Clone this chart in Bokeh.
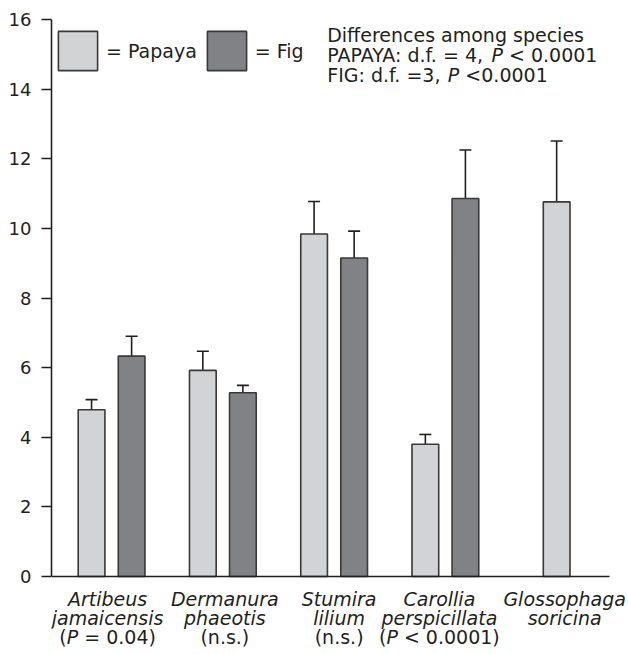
from bokeh.plotting import figure
from bokeh.models import (Range1d, Label, Legend, LegendItem, Whisker, TeeHead,
                          ColumnDataSource, FixedTicker, LinearAxis)
from bokeh.embed import file_html
from bokeh.resources import INLINE

# ---------------- data ----------------
genus = ["Artibeus", "Dermanura", "Stumira", "Carollia", "Glossophaga"]
epithet = ["jamaicensis", "phaeotis", "lilium", "perspicillata", "soricina"]
pair_test = ["P = 0.04", "n.s.", "n.s.", "P < 0.0001", ""]

papaya_mean = [4.79, 5.92, 9.84, 3.80, 10.76]
papaya_se = [0.29, 0.55, 0.93, 0.28, 1.75]
fig_mean = [6.33, 5.28, 9.15, 10.86, None]
fig_se = [0.57, 0.21, 0.77, 1.39, None]

y_ticks = [0, 2, 4, 6, 8, 10, 12, 14, 16]

header_lines = [
    ["Differences among species"],
    ["PAPAYA: d.f. = 4, ", "P", " < 0.0001"],
    ["FIG: d.f. =3, ", "P", " <0.0001"],
]

# ---------------- styling ----------------
TEXT = "#231f20"
PAPAYA_FILL = "#d1d3d4"
FIG_FILL = "#808285"
OUTLINE = "#3a3838"
FONT = "DejaVu Sans"
LABEL_NUDGE_PX = [-4, 2, 5, -6, 8]   # horizontal nudges of category labels

W, H = 628, 654
B_LEFT, B_RIGHT, B_TOP, B_BOTTOM = 51, 0, 19, 0
ZERO_PX = 576          # page row of y = 0
X0, X_AXIS_END = 0.46, 5.475
AXIS_RIGHT_PX = 609
PPU_X = (AXIS_RIGHT_PX - B_LEFT) / (X_AXIS_END - X0)
FRAME_W = W - B_LEFT - B_RIGHT
X1 = X0 + FRAME_W / PPU_X
Y1 = 16
PPU_Y = (ZERO_PX - B_TOP) / Y1
Y0 = -(H - B_BOTTOM - ZERO_PX) / PPU_Y
FRAME_H = H - B_TOP - B_BOTTOM
BASE_SHIFT = -7        # svg baseline correction


def px2x(px):
    return X0 + (px - B_LEFT) / PPU_X


def py2y(py):
    return (ZERO_PX - (py + BASE_SHIFT)) / PPU_Y


# DejaVu Sans advance widths (units per 2048 em) and a few kerning pairs
ADV = {' ': 651, '(': 799, ')': 799, ',': 651, '.': 651, ':': 690, '<': 1716,
       '=': 1716, 'A': 1401, 'F': 1178, 'G': 1587, 'I': 604, 'P': 1235,
       'Y': 1251, 'd': 1300, 'f': 721, 'n': 1298, 's': 1067}
for ch in "0123456789":
    ADV[ch] = 1303
KERN = {"PA": -150, "AY": -100, "YA": -100}


def text_w(s, size):
    units = sum(ADV.get(c, 1200) for c in s)
    units += sum(KERN.get(s[k:k + 2], 0) for k in range(len(s) - 1))
    return units / 2048 * size


p = figure(width=W, height=H, output_backend="svg", toolbar_location=None,
           x_range=Range1d(X0, X1), y_range=Range1d(Y0, Y1),
           x_axis_location=None,
           min_border_left=B_LEFT, min_border_right=B_RIGHT,
           min_border_top=B_TOP, min_border_bottom=B_BOTTOM)
p.outline_line_color = None
p.xgrid.grid_line_color = None
p.ygrid.grid_line_color = None
p.background_fill_color = "white"
p.border_fill_color = "white"

# ---------------- bars ----------------
OFF = 0.18
BAR_W = 0.24
groups = list(range(1, len(genus) + 1))
pap_x = [g - OFF if fig_mean[i] is not None else g for i, g in enumerate(groups)]
pap_src = ColumnDataSource(dict(
    x=pap_x, top=papaya_mean,
    upper=[m + s for m, s in zip(papaya_mean, papaya_se)]))
fidx = [i for i, v in enumerate(fig_mean) if v is not None]
fig_src = ColumnDataSource(dict(
    x=[groups[i] + OFF for i in fidx],
    top=[fig_mean[i] for i in fidx],
    upper=[fig_mean[i] + fig_se[i] for i in fidx]))

for src in (pap_src, fig_src):
    p.add_layout(Whisker(source=src, base="x", lower="top", upper="upper",
                         line_color=TEXT, line_width=1.6, lower_head=None,
                         upper_head=TeeHead(size=12, line_color=TEXT, line_width=1.6)))

r_pap = p.vbar(x="x", top="top", width=BAR_W, source=pap_src,
               fill_color=PAPAYA_FILL, line_color=OUTLINE, line_width=1.6)
r_fig = p.vbar(x="x", top="top", width=BAR_W, source=fig_src,
               fill_color=FIG_FILL, line_color=OUTLINE, line_width=1.6)

# ---------------- axes ----------------
ya = p.yaxis[0]
ya.ticker = FixedTicker(ticks=y_ticks)
ya.bounds = (0, Y1)
ya.axis_line_color = TEXT
ya.axis_line_width = 1.6
ya.major_tick_line_color = TEXT
ya.major_tick_line_width = 1.6
ya.major_tick_out = 10
ya.major_tick_in = 0
ya.minor_tick_line_color = None
ya.major_label_standoff = 10
ya.major_label_text_font = FONT
ya.major_label_text_font_size = "18px"
ya.major_label_text_color = TEXT

xa = LinearAxis(fixed_location=0, bounds=(X0, X_AXIS_END),
                ticker=FixedTicker(ticks=[]), axis_line_color=TEXT,
                axis_line_width=1.6, major_tick_line_color=None,
                minor_tick_line_color=None, major_label_text_font_size="0px")
p.add_layout(xa, "below")

# ---------------- legend ----------------
GLYPH = 49   # area legend glyphs are drawn at 80% of this box
legend = Legend(items=[LegendItem(label="= Papaya", renderers=[r_pap]),
                       LegendItem(label="= Fig", renderers=[r_fig])],
                orientation="horizontal", location=(2, FRAME_H - 7 - GLYPH),
                glyph_width=GLYPH, glyph_height=GLYPH, label_height=GLYPH,
                label_standoff=4, spacing=5, padding=0, margin=0,
                border_line_color=None, background_fill_alpha=0,
                label_text_font=FONT, label_text_font_size="19px",
                label_text_color=TEXT)
p.add_layout(legend)


def add_segments(segments, left_px, base_py, size, italic_idx=()):
    x_px = left_px
    for k, seg in enumerate(segments):
        style = "italic" if k in italic_idx else "normal"
        stripped = seg.lstrip()
        lead = seg[:len(seg) - len(stripped)]
        p.add_layout(Label(x=px2x(x_px + text_w(lead, size)), y=py2y(base_py),
                           text=stripped.rstrip(),
                           text_font=FONT, text_font_size=f"{size}px",
                           text_font_style=style, text_color=TEXT,
                           text_align="left", text_baseline="alphabetic"))
        x_px += text_w(seg, size)


# ---------------- header text ----------------
HDR_LEFT = 326.7
HDR_BASE = [41, 61.7, 81.7]
for line, base in zip(header_lines, HDR_BASE):
    add_segments(line, HDR_LEFT, base, 19, italic_idx=(1,))

# ---------------- category labels ----------------
LBL_SIZE = 19
LBL_BASE = [605.5, 624.5, 643.5]
for i, g in enumerate(groups):
    cx_px = B_LEFT + (g - X0) * PPU_X + LABEL_NUDGE_PX[i]
    for line, base in ((genus[i], LBL_BASE[0]), (epithet[i], LBL_BASE[1])):
        p.add_layout(Label(x=px2x(cx_px), y=py2y(base), text=line, text_font=FONT,
                           text_font_size=f"{LBL_SIZE}px", text_font_style="italic",
                           text_color=TEXT, text_align="center",
                           text_baseline="alphabetic"))
    t = pair_test[i]
    if not t:
        continue
    if t.startswith("P "):
        segs = ["(", "P", t[1:] + ")"]
        total = sum(text_w(s, LBL_SIZE) for s in segs)
        add_segments(segs, cx_px - total / 2, LBL_BASE[2], LBL_SIZE, italic_idx=(1,))
    else:
        p.add_layout(Label(x=px2x(cx_px), y=py2y(LBL_BASE[2]), text=f"({t})",
                           text_font=FONT, text_font_size=f"{LBL_SIZE}px",
                           text_color=TEXT, text_align="center",
                           text_baseline="alphabetic"))

open("out.html", "w").write(file_html(p, INLINE))
